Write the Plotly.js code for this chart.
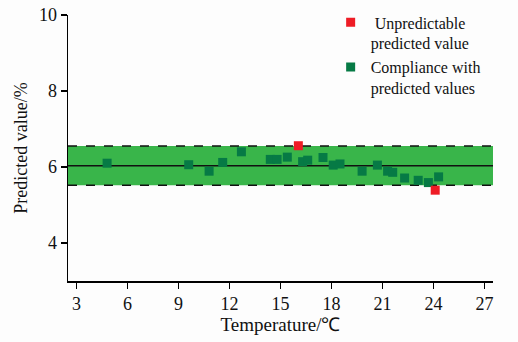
<!DOCTYPE html>
<html>
<head>
<meta charset="utf-8">
<script src="https://cdn.plot.ly/plotly-3.0.1.min.js"></script>
<style>html,body{margin:0;padding:0;background:#fdfdfd;}#chart{width:518px;height:342px;}</style>
</head>
<body>
<div id="chart"></div>
<script>
// Compliance with predicted values (green squares)
const greenTemp = [4.8, 9.6, 10.8, 11.6, 12.7, 14.4, 14.8, 15.4, 16.3, 16.6, 17.5, 18.1, 18.5, 19.8, 20.7, 21.3, 21.6, 22.3, 23.1, 23.7, 24.3];
const greenValue = [6.10, 6.06, 5.89, 6.12, 6.40, 6.20, 6.20, 6.26, 6.14, 6.18, 6.25, 6.05, 6.08, 5.89, 6.05, 5.89, 5.86, 5.71, 5.65, 5.59, 5.74];
// Unpredictable predicted values (red squares)
const redTemp = [16.05, 24.1];
const redValue = [6.56, 5.39];
// Reference band
const meanValue = 6.03;
const upperLimit = 6.55;
const lowerLimit = 5.52;
// Axis ticks
const xTicks = [3, 6, 9, 12, 15, 18, 21, 24, 27];
const yTicks = [4, 6, 8, 10];

const font = {family: '"Liberation Serif", "Times New Roman", serif', color: '#111', size: 18};

const traces = [
  {
    x: greenTemp, y: greenValue, type: 'scatter', mode: 'markers',
    name: 'Compliance with<br>predicted values',
    marker: {symbol: 'square', size: 9, color: '#067a45'},
    legendrank: 2
  },
  {
    x: redTemp, y: redValue, type: 'scatter', mode: 'markers',
    name: '\u00a0Unpredictable<br>predicted value',
    marker: {symbol: 'square', size: 9, color: '#ee1c25'},
    legendrank: 1
  }
];

const layout = {
  width: 518, height: 342,
  margin: {l: 68, r: 25, t: 15, b: 61, autoexpand: false},
  paper_bgcolor: '#fdfdfd', plot_bgcolor: '#fdfdfd',
  font: font,
  showlegend: true,
  legend: {
    x: 0.618, y: 1.036, xanchor: 'left', yanchor: 'top',
    font: {family: font.family, size: 16, color: '#111'},
    bgcolor: 'rgba(0,0,0,0)', valign: 'top', tracegroupgap: 0
  },
  xaxis: {
    range: [2.5, 27.5], tickvals: xTicks, ticktext: xTicks.map(String),
    showline: true, linecolor: '#000', linewidth: 1.5,
    ticks: 'outside', ticklen: 6, tickwidth: 1.5, tickcolor: '#000',
    showgrid: false, zeroline: false, automargin: false,
    tickfont: {size: 18},
    title: {text: 'Temperature/℃', font: {size: 19}, standoff: 4}
  },
  yaxis: {
    range: [3, 10], tickvals: yTicks, ticktext: yTicks.map(String),
    showline: true, linecolor: '#000', linewidth: 1.5,
    ticks: 'outside', ticklen: 6, tickwidth: 1.5, tickcolor: '#000',
    showgrid: false, zeroline: false, automargin: false,
    tickfont: {size: 18},
    title: {text: 'Predicted value/%', font: {size: 18}, standoff: 6}
  },
  shapes: [
    {type: 'rect', xref: 'paper', yref: 'y', x0: 0, x1: 1, y0: lowerLimit, y1: upperLimit,
     fillcolor: '#39b54a', line: {width: 0}, layer: 'below'},
    {type: 'line', xref: 'paper', yref: 'y', x0: 0, x1: 1, y0: upperLimit, y1: upperLimit,
     line: {color: '#111', width: 1.5, dash: 'dash'}, layer: 'below'},
    {type: 'line', xref: 'paper', yref: 'y', x0: 0, x1: 1, y0: lowerLimit, y1: lowerLimit,
     line: {color: '#111', width: 1.5, dash: 'dash'}, layer: 'below'},
    {type: 'line', xref: 'paper', yref: 'y', x0: 0, x1: 1, y0: meanValue, y1: meanValue,
     line: {color: '#111', width: 1.5}, layer: 'below'}
  ]
};

Plotly.newPlot('chart', traces, layout, {displayModeBar: false, staticPlot: true});
</script>
</body>
</html>
